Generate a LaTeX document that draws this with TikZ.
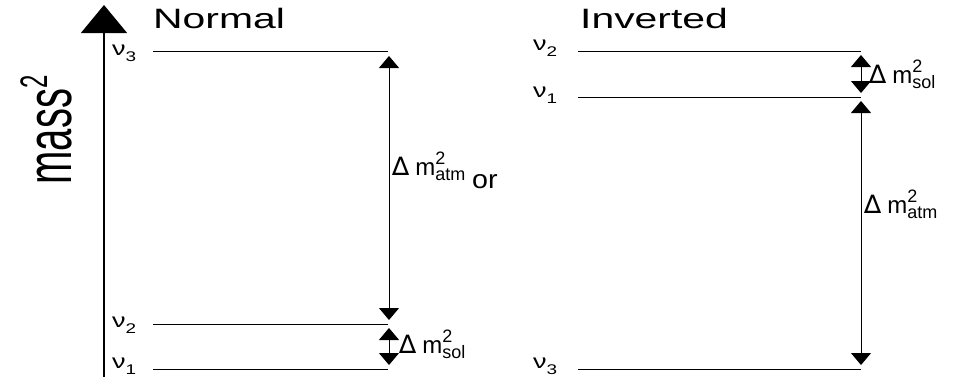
\documentclass[tikz,border=0pt]{standalone}
\usepackage{fontspec}
\setmainfont{Liberation Sans}
\newfontfamily\djv{DejaVu Sans}
\usetikzlibrary{arrows.meta}
\newcommand{\fs}[1]{\fontsize{#1}{#1}\selectfont}
\newcommand{\dmsq}[1]{\scalebox{1.7}{\djv\fs{15}∆}\hspace{6pt}{\fs{24}m}\rlap{\raisebox{11pt}{\fs{18}2}}\raisebox{-5pt}{\fs{18}#1}}
\newcommand{\nulab}[1]{\scalebox{1.35}[1]{{\fs{20}ν}\raisebox{-6pt}{\fs{14}#1}}}
\tikzset{
  level/.style={line width=0.9pt},
  gap/.style={line width=1pt,{Triangle[width=20pt,length=12pt]}-{Triangle[width=20pt,length=12pt]}},
  nulabel/.style={anchor=base west,inner sep=0pt},
  dmlabel/.style={anchor=base west,inner sep=0pt},
  title/.style={anchor=base west,inner sep=0pt}
}
\begin{document}
\begin{tikzpicture}[x=1pt,y=-1pt]
\useasboundingbox (0,0) rectangle (954,383);
% axis
\coordinate (axb) at (104,377);
\coordinate (axt) at (104,5);
\draw[line width=1.3pt,-{Triangle[width=46pt,length=28pt]}] (axb) -- (axt);
\node[rotate=90,inner sep=0pt] (mass) at (46,130) {\scalebox{1}[1.6]{\fs{40}mass\raisebox{15pt}{\fs{24}2}}};
% titles
\node[title] (normal) at (153,28) {\scalebox{1.46}[1]{\fs{28}Normal}};
\node[title] (inverted) at (580,28) {\scalebox{1.46}[1]{\fs{28}Inverted}};
% Normal levels
\coordinate (n3a) at (153,51); \coordinate (n3b) at (388,51);
\coordinate (n2a) at (153,324); \coordinate (n2b) at (388,324);
\coordinate (n1a) at (153,369); \coordinate (n1b) at (388,369);
\draw[level] (n3a) -- (n3b);
\draw[level] (n2a) -- (n2b);
\draw[level] (n1a) -- (n1b);
\node[nulabel] (ln3) at (112,55) {\nulab{3}};
\node[nulabel] (ln2) at (112,327) {\nulab{2}};
\node[nulabel] (ln1) at (112,368) {\nulab{1}};
\coordinate (na1) at (389,56); \coordinate (na2) at (389,320);
\coordinate (ns1) at (389,328); \coordinate (ns2) at (389,365);
\draw[gap] (na1) -- (na2);
\draw[gap] (ns1) -- (ns2);
\node[dmlabel] (natm) at (392,175) {\dmsq{atm}};
\node[anchor=base west,inner sep=0pt] (or) at (472,188) {\scalebox{1.1}[1]{\fs{26}or}};
\node[dmlabel] (nsol) at (399,353) {\dmsq{sol}};
% Inverted levels
\coordinate (i2a) at (578,51); \coordinate (i2b) at (861,51);
\coordinate (i1a) at (578,97); \coordinate (i1b) at (861,97);
\coordinate (i3a) at (578,369); \coordinate (i3b) at (861,369);
\draw[level] (i2a) -- (i2b);
\draw[level] (i1a) -- (i1b);
\draw[level] (i3a) -- (i3b);
\node[nulabel] (li2) at (533,50) {\nulab{2}};
\node[nulabel] (li1) at (533,97) {\nulab{1}};
\node[nulabel] (li3) at (533,368) {\nulab{3}};
\coordinate (is1) at (861,55); \coordinate (is2) at (861,93);
\coordinate (ia1) at (861,101); \coordinate (ia2) at (861,365);
\draw[gap] (is1) -- (is2);
\draw[gap] (ia1) -- (ia2);
\node[dmlabel] (isol) at (869,83) {\dmsq{sol}};
\node[dmlabel] (iatm) at (864,213) {\dmsq{atm}};
\end{tikzpicture}
\end{document}
